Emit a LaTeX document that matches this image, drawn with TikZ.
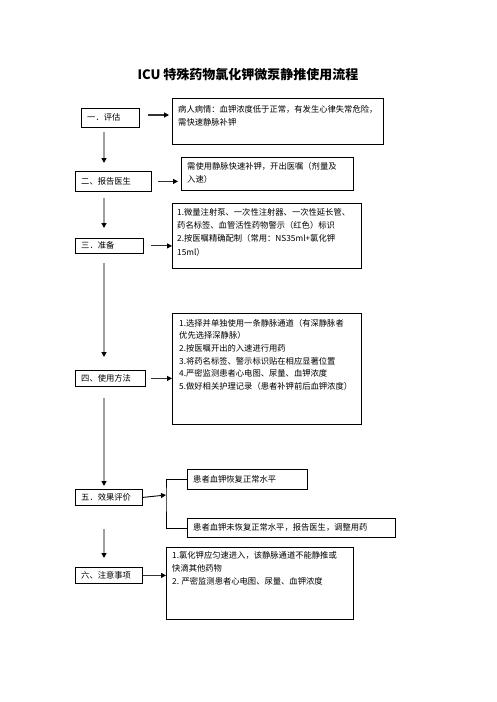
\documentclass[tikz,border=0pt]{standalone}
\usepackage{fontspec}
\setmainfont{Noto Sans CJK SC}
\usetikzlibrary{arrows.meta}
\tikzset{
  lbox/.style={draw, line width=0.8pt, inner sep=0pt, anchor=north west, font=\fontsize{8.3}{12}\selectfont},
  rbox/.style={draw, line width=0.8pt, inner sep=0pt, anchor=north west},
  txt/.style={inner sep=0pt, anchor=north west, align=left, font=\fontsize{8.3}{12.8}\selectfont},
  varrow/.style={draw=gray!75, line width=1.6pt, -{Triangle[length=5pt,width=5pt,color=black]}},
  harrow/.style={draw=gray!40!black, line width=1.1pt, -{Triangle[length=5pt,width=5pt,color=black]}},
  bline/.style={draw=black, line width=0.8pt}
}
\begin{document}
\begin{tikzpicture}[x=1pt,y=-1pt]
\useasboundingbox (0,0) rectangle (496,702);
\node[font=\bfseries\fontsize{13}{15}\selectfont] (title) at (248,75) {ICU 特殊药物氯化钾微泵静推使用流程};

\coordinate (v) at (104,0);

% left boxes
\node[lbox, minimum width=58pt, minimum height=19pt] (l1) at (81,108) {};
\node[txt, anchor=west] (l1t) at (87,117.5) {一．评估};
\node[lbox, minimum width=76pt, minimum height=20pt] (l2) at (75,171) {};
\node[txt, anchor=west] (l2t) at (81,181) {二、报告医生};
\node[lbox, minimum width=68pt, minimum height=15pt] (l3) at (75,238) {};
\node[txt, anchor=west] (l3t) at (81,245.5) {三．准备};
\node[lbox, minimum width=70pt, minimum height=16pt] (l4) at (75,370) {};
\node[txt, anchor=west] (l4t) at (81,378) {四、使用方法};
\node[lbox, minimum width=67pt, minimum height=16pt] (l5) at (75,489) {};
\node[txt, anchor=west] (l5t) at (81,497) {五．效果评价};
\node[lbox, minimum width=67pt, minimum height=16pt] (l6) at (75,567) {};
\node[txt, anchor=west] (l6t) at (81,575) {六、注意事项};

% right boxes
\node[rbox, minimum width=211pt, minimum height=46pt] (r1) at (172,98) {};
\node[txt] (r1t) at (178,105) {病人病情：血钾浓度低于正常，有发生心律失常危险，\\需快速静脉补钾};
\node[rbox, minimum width=172pt, minimum height=33pt] (r2) at (181,157) {};
\node[txt] (r2t) at (187,162) {需使用静脉快速补钾，开出医嘱（剂量及\\入速）};
\node[rbox, minimum width=189pt, minimum height=65pt] (r3) at (172,203) {};
\node[txt, font=\fontsize{8.3}{13.3}\selectfont] (r3t) at (177,208) {1.微量注射泵、一次性注射器、一次性延长管、\\药名标签、血管活性药物警示（红色）标识\\2.按医嘱精确配制（常用：NS35ml+氯化钾\\15ml）};
\node[rbox, minimum width=189pt, minimum height=111pt] (r4) at (172,313) {};
\node[txt, font=\fontsize{8.3}{12.6}\selectfont] (r4t) at (179,319) {1.选择并单独使用一条静脉通道（有深静脉者\\优先选择深静脉）\\2.按医嘱开出的入速进行用药\\3.将药名标签、警示标识贴在相应显著位置\\4.严密监测患者心电图、尿量、血钾浓度\\5.做好相关护理记录（患者补钾前后血钾浓度）};
\node[rbox, minimum width=120pt, minimum height=20pt] (r5a) at (187,469) {};
\node[txt, anchor=west] (r5at) at (193,479) {患者血钾恢复正常水平};
\node[rbox, minimum width=208pt, minimum height=19pt] (r5b) at (187,518) {};
\node[txt, anchor=west] (r5bt) at (193,527.5) {患者血钾未恢复正常水平，报告医生，调整用药};
\node[rbox, minimum width=187pt, minimum height=72pt] (r6) at (166,547) {};
\node[txt, font=\fontsize{8.3}{13.3}\selectfont] (r6t) at (172,551) {1.氯化钾应匀速进入，该静脉通道不能静推或\\快滴其他药物\\2. 严密监测患者心电图、尿量、血钾浓度};

% vertical connectors
\draw[varrow] ([yshift=-4pt]l1.south -| v) -- ([yshift=8pt]l2.north -| v);
\draw[varrow] ([yshift=-6pt]l2.south -| v) -- ([yshift=10pt]l3.north -| v);
\draw[varrow] ([yshift=-9pt]l3.south -| v) -- ([yshift=13pt]l4.north -| v);
\draw[varrow] ([yshift=-11pt]l4.south -| v) -- ([yshift=3pt]l5.north -| v);
\draw[varrow] ([yshift=-23pt]l5.south -| v) -- ([yshift=9pt]l6.north -| v);

% horizontal connectors
\draw[harrow] ([xshift=8pt]l1.east |- 0,115) -- ([xshift=-3pt]r1.west |- 0,115);
\draw[harrow] ([xshift=6pt]l2.east) -- ([xshift=-3pt]r2.west |- l2.east);
\draw[harrow] ([xshift=7pt]l3.east) -- (r3.west |- l3.east);
\draw[harrow] ([xshift=5pt]l4.east) -- (r4.west |- l4.east);
\draw[harrow, draw=black, line width=0.9pt] (l5.east) -- (166,495) coordinate (bk);
\draw[bline] (r5a.west) -| (bk) |- (r5b.west);
\draw[harrow] (l6.east) -- (r6.west |- l6.east);
\end{tikzpicture}
\end{document}
